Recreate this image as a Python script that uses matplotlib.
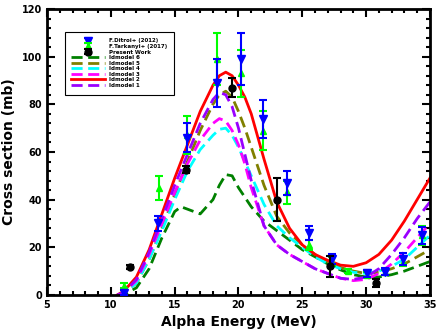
import matplotlib.pyplot as plt
import numpy as np

# experimental data (MeV, mb, err)
ditroi_x = [11.0, 13.7, 16.0, 18.3, 20.2, 21.9, 23.8, 25.5, 27.3, 30.1, 31.5, 32.9, 34.4]
ditroi_y = [1.0, 30, 66, 89, 99, 74, 47, 26, 15, 9, 9.7, 15, 25]
ditroi_e = [1.0, 3, 6, 10, 11, 8, 5, 3, 2, 1.5, 1.5, 2.5, 3.5]

tark_x = [11.0, 13.8, 16.0, 18.3, 20.2, 21.9, 23.8, 25.5, 27.3, 28.6, 30.1, 31.5, 32.9, 34.4]
tark_y = [3.8, 45, 67, 99, 93, 69, 43, 21, 14, 10, 8.5, 9.5, 14, 25]
tark_e = [1.0, 5, 8, 11, 10, 8, 5, 2, 2, 1, 1, 1, 2, 4]

pw_x = [11.5, 15.9, 19.5, 23.0, 27.2, 30.8]
pw_y = [11.7, 52.5, 87, 40, 12, 5]
pw_e = [1.0, 1.5, 4, 9, 4.5, 1.5]

# TALYS calculations
en = [10.5, 11, 12, 13, 14, 15, 15.5, 16, 17, 18, 18.5, 19, 19.5, 20, 20.5, 21,
      22, 23, 24, 25, 26, 27, 28, 29, 30, 31, 32, 33, 34, 35]
ld1 = [0, 1, 6.5, 18, 32, 46, 52.5, 59, 72, 82, 85, 84, 79, 70, 59, 48,
       29, 21, 17, 14, 11, 9, 7, 6.5, 7.5, 11, 17, 24, 32, 39]
ld2 = [0, 1.5, 7.5, 19, 34, 49, 56, 63, 77, 88, 92, 93.5, 92, 88, 83, 76,
       57, 39, 28, 21, 17, 14.5, 12.5, 12, 13.5, 17, 23, 31, 40, 49]
ld3 = [0, 1, 6, 17, 30, 43, 49, 55, 65, 72, 74, 73, 69, 63, 55, 45,
       29, 21, 17, 14, 11, 9, 7, 6, 6.5, 9, 13, 18, 24, 30]
ld4 = [0, 0.5, 5, 15, 27, 40, 46, 52, 61, 67, 69.5, 70, 67, 62, 56, 50,
       38, 29, 24, 20, 16, 13, 11, 9.5, 9, 10, 12, 15, 20, 25]
ld5 = [0, 0.5, 5, 15, 28, 42, 49, 56, 69, 80, 84, 85.5, 83, 77, 70, 62,
       46, 33, 26, 21, 17, 14, 11.5, 10, 9, 9.5, 11, 13, 16, 19]
ld6 = [0, 0, 3, 11, 24, 35, 37, 36, 34, 40, 46, 50.5, 50, 45, 41, 37,
       31, 27, 23, 19, 16, 13, 10.5, 8.5, 7.5, 7.5, 8.5, 10, 12, 14]

plt.rcParams['font.weight'] = 'bold'
fig = plt.figure(figsize=(4.36, 3.34), dpi=100)
ax = fig.add_axes([0.108, 0.117, 0.878, 0.856])

h1 = ax.errorbar(ditroi_x, ditroi_y, yerr=ditroi_e, fmt='v', color='blue', ms=6,
                 capsize=3, elinewidth=1.5, capthick=1.5, label='F.Ditroi+ (2012)', zorder=5)
h2 = ax.errorbar(tark_x, tark_y, yerr=tark_e, fmt='^', color='#00ff00', ms=5,
                 capsize=3, elinewidth=1.5, capthick=1.5, label='F.Tarkanyi+ (2017)', zorder=4)
h3 = ax.errorbar(pw_x, pw_y, yerr=pw_e, fmt='o', color='black', ms=5,
                 capsize=3, elinewidth=1.5, capthick=1.5, label='Present Work', zorder=6)

dash = (4, 2)
l6, = ax.plot(en, ld6, color='green', lw=2, dashes=dash, label='ldmodel 6')
l5, = ax.plot(en, ld5, color='olive', lw=2, dashes=dash, label='ldmodel 5')
l4, = ax.plot(en, ld4, color='cyan', lw=2, dashes=dash, label='ldmodel 4')
l3, = ax.plot(en, ld3, color='magenta', lw=2, dashes=dash, label='ldmodel 3')
l2, = ax.plot(en, ld2, color='red', lw=2, label='ldmodel 2')
l1, = ax.plot(en, ld1, color='#9900ff', lw=2, dashes=dash, label='ldmodel 1')

ax.set_xlim(5, 35)
ax.set_ylim(0, 120)
ax.set_xticks(np.arange(5, 36, 5))
ax.set_xticks(np.arange(5, 36, 1), minor=True)
ax.set_yticks(np.arange(0, 121, 20))
ax.set_yticks(np.arange(0, 121, 4), minor=True)
ax.tick_params(which='both', direction='in', top=True, right=True, width=1.5, labelsize=7)
ax.tick_params(which='major', length=6)
ax.tick_params(which='minor', length=3)
for s in ax.spines.values():
    s.set_linewidth(2)

ax.set_xlabel('Alpha Energy (MeV)', fontsize=10, fontweight='bold')
ax.set_ylabel('Cross section (mb)', fontsize=10, fontweight='bold')

handles = [h1, h2, h3, l6, l5, l4, l3, l2, l1]
leg = ax.legend(handles=handles, loc='upper left', bbox_to_anchor=(0.039, 0.93), fontsize=4,
                labelspacing=0.1, handlelength=6, borderpad=1.2, fancybox=False,
                edgecolor='black', framealpha=1)
leg.get_frame().set_linewidth(0.8)

plt.savefig('out.png', dpi=100)
